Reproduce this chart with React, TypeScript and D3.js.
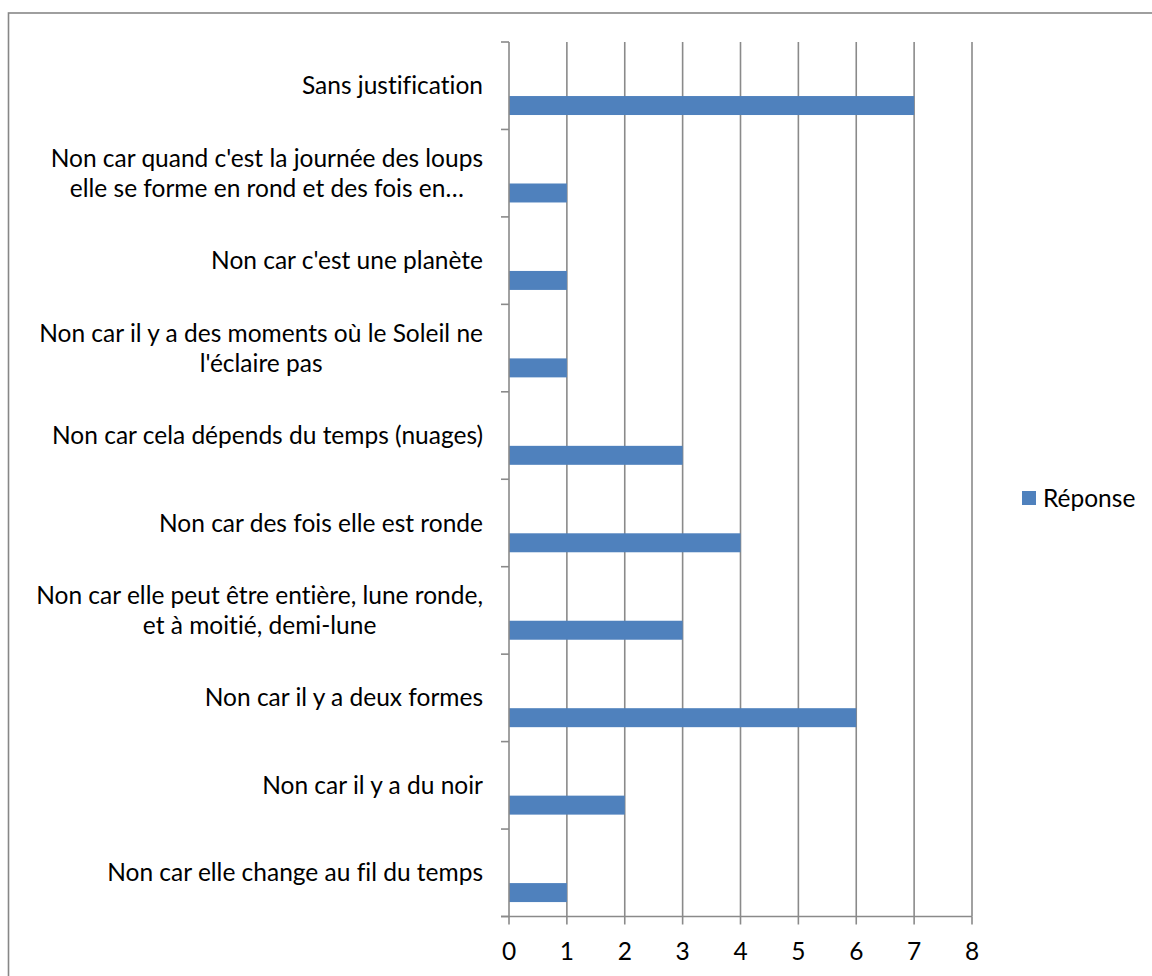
import React, { useEffect, useRef } from "react";
import * as d3 from "d3";

const categories = [
  "Sans justification",
  "Non car quand c'est la journée des loups\nelle se forme en rond et des fois en…",
  "Non car c'est une planète",
  "Non car il y a des moments où le Soleil ne\nl'éclaire pas",
  "Non car cela dépends du temps (nuages)",
  "Non car des fois elle est ronde",
  "Non car elle peut être entière, lune ronde,\net à moitié, demi-lune",
  "Non car il y a deux formes",
  "Non car il y a du noir",
  "Non car elle change au fil du temps",
];
const values = [7, 1, 1, 1, 3, 4, 3, 6, 2, 1];
const xTicks = [0, 1, 2, 3, 4, 5, 6, 7, 8];
const seriesName = "Réponse";

const W = 1152;
const H = 976;
const left = 509;
const right = 972;
const top = 42;
const bottom = 916.5;
const font = "Lato, 'Open Sans', sans-serif";
const fs = 24.5;
const grid = "#8a8a8a";
const barColor = "#4f81bd";

const App = () => {
  const ref = useRef<SVGSVGElement>(null);

  useEffect(() => {
    const svg = d3.select(ref.current);
    svg.selectAll("*").remove();

    const x = d3.scaleLinear().domain([0, 8]).range([left, right]);
    const y = d3.scaleBand<number>().domain(d3.range(categories.length)).range([top, bottom]);
    const bw = y.bandwidth();

    // chart border (runs off the right and bottom)
    svg.append("rect")
      .attr("x", 8.5).attr("y", 13).attr("width", W + 20).attr("height", H + 20)
      .attr("fill", "white").attr("stroke", "#878787").attr("stroke-width", 1.6);

    // vertical gridlines
    svg.append("g").selectAll("line").data(xTicks.slice(1)).join("line")
      .attr("x1", (d) => x(d)).attr("x2", (d) => x(d))
      .attr("y1", top).attr("y2", bottom)
      .attr("stroke", grid).attr("stroke-width", 1.6);

    // bars
    svg.append("g").selectAll("rect").data(values).join("rect")
      .attr("x", x(0))
      .attr("y", (_, i) => (y(i) as number) + bw * 0.618)
      .attr("width", (d) => x(d) - x(0))
      .attr("height", bw * 0.217)
      .attr("fill", barColor);

    // y axis + ticks
    const ya = svg.append("g");
    ya.append("line").attr("x1", left).attr("x2", left).attr("y1", top).attr("y2", bottom)
      .attr("stroke", grid).attr("stroke-width", 1.6);
    ya.selectAll("line.t").data(d3.range(categories.length + 1)).join("line")
      .attr("class", "t")
      .attr("x1", left - 8).attr("x2", left)
      .attr("y1", (i) => top + i * bw).attr("y2", (i) => top + i * bw)
      .attr("stroke", grid).attr("stroke-width", 1.6);

    // x axis + ticks
    const xa = svg.append("g");
    xa.append("line").attr("x1", left - 8).attr("x2", right).attr("y1", bottom).attr("y2", bottom)
      .attr("stroke", grid).attr("stroke-width", 1.6);
    xa.selectAll("line.t").data(xTicks).join("line")
      .attr("class", "t")
      .attr("x1", (d) => x(d)).attr("x2", (d) => x(d))
      .attr("y1", bottom).attr("y2", bottom + 8)
      .attr("stroke", grid).attr("stroke-width", 1.6);
    xa.selectAll("text").data(xTicks).join("text")
      .attr("x", (d) => x(d)).attr("y", 960)
      .attr("text-anchor", "middle")
      .attr("font-family", font).attr("font-size", fs).attr("fill", "#000")
      .text((d) => d);

    // category labels: block right-aligned, lines centred on each other
    const lab = svg.append("g").attr("font-family", font).attr("font-size", fs).attr("fill", "#000")
      .style("font-variant-ligatures", "none");
    const labelRight = 483;
    const lineH = 30;
    categories.forEach((c, i) => {
      const lines = c.split("\n");
      const cy = (y(i) as number) + bw / 2;
      const texts = lines.map((ln, k) =>
        lab.append("text")
          .attr("y", cy + (k - (lines.length - 1) / 2) * lineH)
          .attr("dy", "0.35em")
          .text(ln)
      );
      const widths = texts.map((t) => (t.node() as SVGTextElement).getComputedTextLength());
      const maxW = d3.max(widths) as number;
      texts.forEach((t) => t.attr("x", labelRight - maxW / 2).attr("text-anchor", "middle"));
    });

    // legend
    const lg = svg.append("g");
    lg.append("rect").attr("x", 1022).attr("y", 491).attr("width", 14).attr("height", 14).attr("fill", barColor);
    lg.append("text").attr("x", 1043).attr("y", 507)
      .attr("font-family", font).attr("font-size", fs).attr("fill", "#000")
      .text(seriesName);
  }, []);

  return (
    <svg
      ref={ref}
      width={W}
      height={H}
      viewBox={`0 0 ${W} ${H}`}
      style={{ position: "absolute", left: 0, top: 0, background: "white" }}
    />
  );
};

export default App;
